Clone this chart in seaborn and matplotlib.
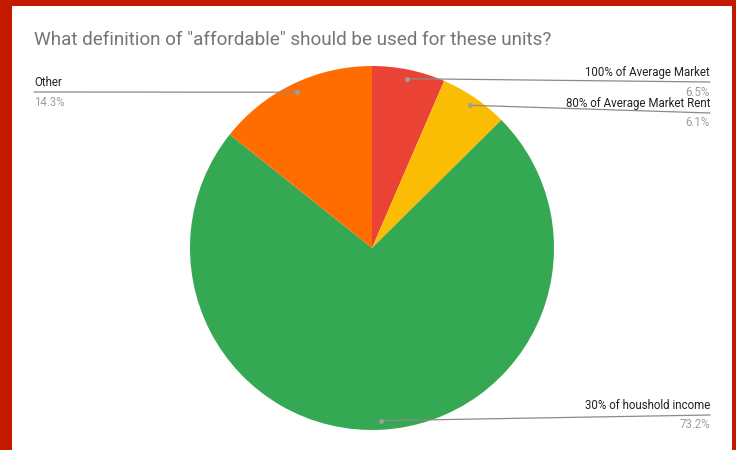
import numpy as np
import matplotlib
matplotlib.use("Agg")
import matplotlib.pyplot as plt
import seaborn as sns

sns.set_theme(style="white")
plt.rcParams["font.family"] = ["Roboto", "DejaVu Sans"]

# Survey answers, clockwise from 12 o'clock
categories = ["100% of Average Market", "80% of Average Market Rent",
              "30% of houshold income", "Other"]
shares = [6.5, 6.1, 73.2, 14.3]
pct_labels = ["6.5%", "6.1%", "73.2%", "14.3%"]
colors = ["#EA4335", "#FBBC04", "#34A853", "#FF6D01"]
title = 'What definition of "affordable" should be used for these units?'

W, H = 736, 450
fig = plt.figure(figsize=(W / 100, H / 100), dpi=100)
fig.patch.set_facecolor("#C51A00")

# white card inside the red frame
card = fig.add_axes([12 / W, 0, (732 - 12) / W, (450 - 6) / H])
card.set_facecolor("white")
card.set_xticks([]); card.set_yticks([])
for s in card.spines.values():
    s.set_visible(False)

cx, cy, R = 372, 248, 182
ax = fig.add_axes([(cx - R) / W, (H - cy - R) / H, 2 * R / W, 2 * R / H])
wedges, _ = ax.pie(shares, colors=colors, startangle=90, counterclock=False,
                   radius=1, wedgeprops=dict(linewidth=0))
ax.set_xlim(-1, 1); ax.set_ylim(-1, 1)
ax.set_aspect("equal")
ax.axis("off")

fig.text(34 / W, 1 - 40 / H, title, fontsize=13.6, color="#757575",
         ha="left", va="center")

# label anchor for each slice: (x end of leader, y of leader, side)
anchors = [(710, 82, "right"), (710, 113, "right"),
           (710, 415, "right"), (34, 92, "left")]

to_fig = ax.transData + fig.transFigure.inverted()
for w, name, pct, (ax_px, ay_px, side) in zip(wedges, categories, pct_labels, anchors):
    mid = np.deg2rad((w.theta1 + w.theta2) / 2)
    px, py = to_fig.transform((0.95 * np.cos(mid), 0.95 * np.sin(mid)))
    ex, ey = ax_px / W, 1 - ay_px / H
    fig.add_artist(plt.Line2D([px, ex], [py, ey], transform=fig.transFigure,
                              color="#8a8a8a", lw=0.9))
    fig.add_artist(plt.Line2D([px], [py], transform=fig.transFigure,
                              marker="o", ms=2.5, color="#9e9e9e", lw=0))
    fig.text(ex, ey + 3 / H, name, fontsize=8.3, color="#222222",
             ha=side, va="bottom")
    fig.text(ex, ey - 3.5 / H, pct, fontsize=8.3, color="#9e9e9e",
             ha=side, va="top")

fig.savefig("out.png", dpi=100, facecolor=fig.get_facecolor())
